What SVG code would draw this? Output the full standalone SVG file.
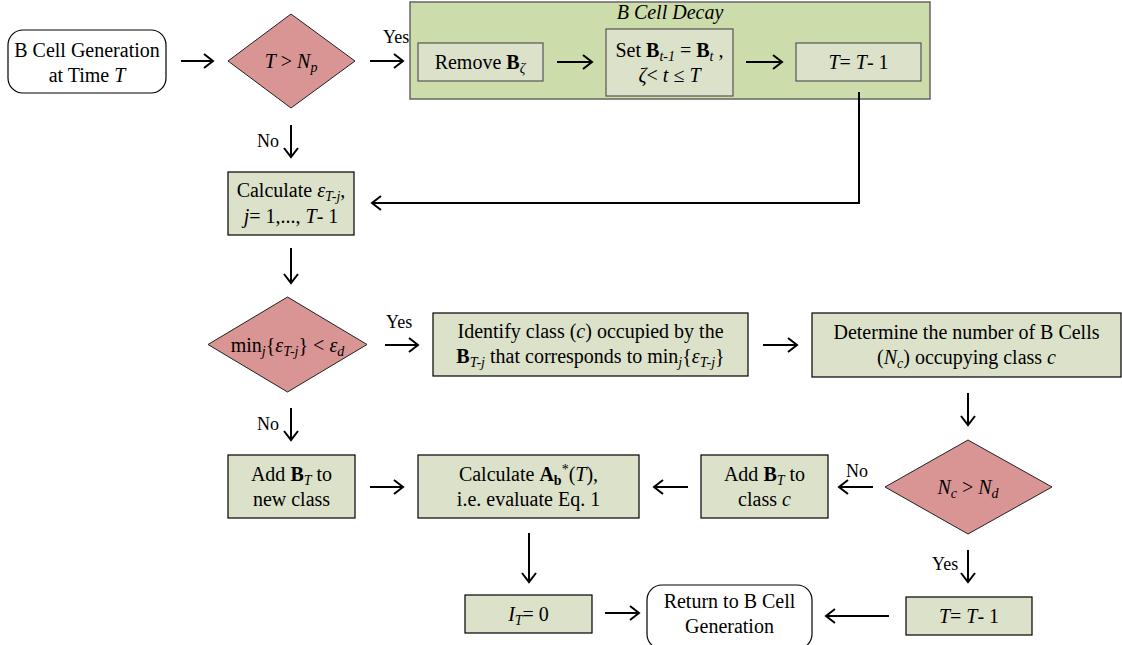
<svg xmlns="http://www.w3.org/2000/svg" width="1122" height="645" viewBox="0 0 1122 645">
<style>
.t{font-family:"Liberation Serif","Times New Roman",serif;font-size:20px;fill:#000;text-anchor:middle}
.i{font-style:italic}
.b{font-weight:bold}
.s{font-size:14px}
.lbl{font-family:"Liberation Serif","Times New Roman",serif;font-size:18px;fill:#000}
.proc{fill:#DCE1CA;stroke:#000;stroke-width:1.2}
.inproc{fill:#DCE1CA;stroke:#555;stroke-width:1.2}
.term{fill:#fff;stroke:#000;stroke-width:1.2}
.dec{fill:#D99594;stroke:#222;stroke-width:1}
.grp{fill:#CCDCAA;stroke:#666;stroke-width:1.5}
.c{fill:none;stroke:#000;stroke-width:2;marker-end:url(#ah)}
</style>
<defs>
<marker id="ah" markerUnits="userSpaceOnUse" markerWidth="14" markerHeight="18" refX="11" refY="8" orient="auto">
<path d="M2,1 L11,8 L2,15" fill="none" stroke="#000" stroke-width="2"/>
</marker>
</defs>

<g id="decay-group">
<rect class="grp" x="410" y="2" width="520" height="97"/>
<text class="t i" x="670" y="19">B Cell Decay</text>
</g>

<g id="start">
<rect class="term" x="8" y="30" width="158" height="63" rx="15"/>
<text class="t" x="87" y="57">B Cell Generation</text>
<text class="t" x="87" y="82">at Time <tspan class="i">T</tspan></text>
</g>

<g id="dec1">
<polygon class="dec" points="291,14 355,61 291,108 228,61"/>
<text class="t" x="291" y="68"><tspan class="i">T</tspan> &gt; <tspan class="i">N</tspan><tspan class="i s" dy="4">p</tspan></text>
</g>

<g id="remove">
<rect class="inproc" x="418" y="43" width="125" height="38"/>
<text class="t" x="480" y="69">Remove <tspan class="b">B</tspan><tspan class="i s" dy="4">ζ</tspan></text>
</g>

<g id="setb">
<rect class="inproc" x="606" y="29" width="127" height="67"/>
<text class="t" x="669.5" y="57">Set <tspan class="b">B</tspan><tspan class="i s" dy="4">t-1</tspan><tspan dy="-4"> = </tspan><tspan class="b">B</tspan><tspan class="i s" dy="4">t</tspan><tspan dy="-4"> ,</tspan></text>
<text class="t" x="669.5" y="82"><tspan class="i">ζ</tspan>&lt; <tspan class="i">t</tspan> ≤ <tspan class="i">T</tspan></text>
</g>

<g id="dect1">
<rect class="inproc" x="796" y="43" width="125" height="38"/>
<text class="t" x="858.5" y="69"><tspan class="i">T</tspan>= <tspan class="i">T</tspan>- 1</text>
</g>

<g id="calceps">
<rect class="proc" x="228" y="172" width="126" height="63"/>
<text class="t" x="291" y="197">Calculate <tspan class="i">ε</tspan><tspan class="i s" dy="4">T-j</tspan><tspan dy="-4">,</tspan></text>
<text class="t" x="291" y="223"><tspan class="i">j</tspan>= 1,..., <tspan class="i">T</tspan>- 1</text>
</g>

<g id="dec2">
<polygon class="dec" points="287.5,297 367,344.5 287.5,392 208,344.5"/>
<text class="t" x="287.5" y="352">min<tspan class="i s" dy="4">j</tspan><tspan dy="-4">{</tspan><tspan class="i">ε</tspan><tspan class="i s" dy="4">T-j</tspan><tspan dy="-4">} &lt; </tspan><tspan class="i">ε</tspan><tspan class="i s" dy="4">d</tspan></text>
</g>

<g id="identify">
<rect class="proc" x="433" y="313" width="315" height="63"/>
<text class="t" x="590.5" y="338">Identify class (<tspan class="i">c</tspan>) occupied by the</text>
<text class="t" x="590.5" y="363"><tspan class="b">B</tspan><tspan class="i s" dy="4">T-j</tspan><tspan dy="-4"> that corresponds to min</tspan><tspan class="i s" dy="4">j</tspan><tspan dy="-4">{</tspan><tspan class="i">ε</tspan><tspan class="i s" dy="4">T-j</tspan><tspan dy="-4">}</tspan></text>
</g>

<g id="determine">
<rect class="proc" x="812" y="313" width="309" height="64"/>
<text class="t" x="966.5" y="339">Determine the number of B Cells</text>
<text class="t" x="966.5" y="364">(<tspan class="i">N</tspan><tspan class="i s" dy="4">c</tspan><tspan dy="-4">) occupying class </tspan><tspan class="i">c</tspan></text>
</g>

<g id="dec3">
<polygon class="dec" points="968,440 1052,487 968,534 885,487"/>
<text class="t" x="968" y="494"><tspan class="i">N</tspan><tspan class="i s" dy="4">c</tspan><tspan dy="-4"> &gt; </tspan><tspan class="i">N</tspan><tspan class="i s" dy="4">d</tspan></text>
</g>

<g id="addclass">
<rect class="proc" x="701" y="455" width="127" height="63"/>
<text class="t" x="764.5" y="481">Add <tspan class="b">B</tspan><tspan class="i s" dy="4">T</tspan><tspan dy="-4"> to</tspan></text>
<text class="t" x="764.5" y="506">class <tspan class="i">c</tspan></text>
</g>

<g id="calcab">
<rect class="proc" x="418" y="455" width="221" height="63"/>
<text class="t" x="528.5" y="481">Calculate <tspan class="b">A</tspan><tspan class="b s" dy="4">b</tspan><tspan class="s" dy="-11">*</tspan><tspan dy="7">(</tspan><tspan class="i">T</tspan>),</text>
<text class="t" x="528.5" y="506">i.e. evaluate Eq. 1</text>
</g>

<g id="addnew">
<rect class="proc" x="228" y="455" width="127" height="63"/>
<text class="t" x="291.5" y="481">Add <tspan class="b">B</tspan><tspan class="i s" dy="4">T</tspan><tspan dy="-4"> to</tspan></text>
<text class="t" x="291.5" y="506">new class</text>
</g>

<g id="it0">
<rect class="proc" x="465" y="595" width="127" height="38"/>
<text class="t" x="528.5" y="621"><tspan class="i">I</tspan><tspan class="i s" dy="4">T</tspan><tspan dy="-4">= 0</tspan></text>
</g>

<g id="return">
<rect class="term" x="647" y="585" width="165" height="64" rx="15"/>
<text class="t" x="729.5" y="608">Return to B Cell</text>
<text class="t" x="729.5" y="633">Generation</text>
</g>

<g id="dect2">
<rect class="proc" x="906" y="597" width="126" height="38"/>
<text class="t" x="969" y="623"><tspan class="i">T</tspan>= <tspan class="i">T</tspan>- 1</text>
</g>

<g id="connectors">
<line class="c" x1="181" y1="61" x2="213" y2="61"/>
<line class="c" x1="370" y1="61" x2="403" y2="61"/>
<line class="c" x1="557" y1="62" x2="592" y2="62"/>
<line class="c" x1="746" y1="62" x2="782" y2="62"/>
<line class="c" x1="291" y1="125" x2="291" y2="157"/>
<polyline class="c" points="859,92 859,203 372,203"/>
<line class="c" x1="291" y1="248" x2="291" y2="283"/>
<line class="c" x1="385" y1="345" x2="418" y2="345"/>
<line class="c" x1="763" y1="345" x2="797" y2="345"/>
<line class="c" x1="968" y1="393" x2="968" y2="425"/>
<line class="c" x1="873" y1="487" x2="839" y2="487"/>
<line class="c" x1="688" y1="487" x2="654" y2="487"/>
<line class="c" x1="291" y1="408" x2="291" y2="440"/>
<line class="c" x1="370" y1="487" x2="403" y2="487"/>
<line class="c" x1="529" y1="533" x2="529" y2="582"/>
<line class="c" x1="605" y1="613" x2="639" y2="613"/>
<line class="c" x1="889" y1="616" x2="826" y2="616"/>
<line class="c" x1="968" y1="550" x2="968" y2="582"/>
<text class="lbl" x="383" y="43">Yes</text>
<text class="lbl" x="257" y="147">No</text>
<text class="lbl" x="386" y="328">Yes</text>
<text class="lbl" x="257" y="430">No</text>
<text class="lbl" x="846" y="477">No</text>
<text class="lbl" x="932" y="570">Yes</text>
</g>
</svg>
